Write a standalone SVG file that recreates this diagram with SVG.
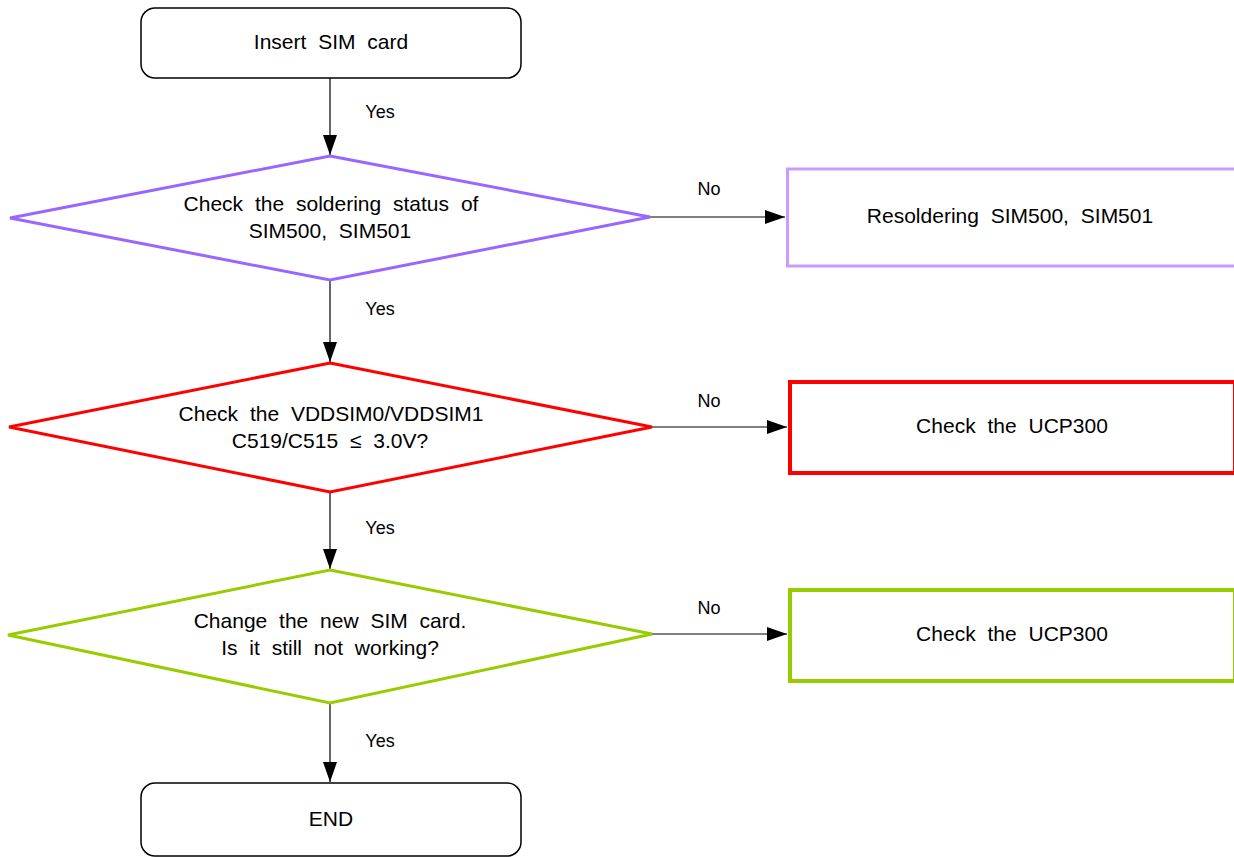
<svg xmlns="http://www.w3.org/2000/svg" width="1234" height="857" viewBox="0 0 1234 857">
<style>
.t{font-family:"Liberation Sans",Arial,sans-serif;font-size:21px;fill:#000;text-anchor:middle;word-spacing:6px}
.l{font-family:"Liberation Sans",Arial,sans-serif;font-size:18px;fill:#000;text-anchor:middle}
.term{fill:#fff;stroke:#000;stroke-width:1.5}
.c{stroke:#000;stroke-width:1.2;fill:none;marker-end:url(#ah)}
</style>
<defs>
<marker id="ah" markerUnits="userSpaceOnUse" markerWidth="22" markerHeight="16" refX="20" refY="7" orient="auto">
<path d="M0,0 L20,7 L0,14 Z" fill="#000"/>
</marker>
</defs>
<rect width="1234" height="857" fill="#fff"/>
<g id="connectors">
<line class="c" x1="330" y1="78" x2="330" y2="155"/>
<line class="c" x1="650" y1="217" x2="785" y2="217"/>
<line class="c" x1="330" y1="280" x2="330" y2="362"/>
<line class="c" x1="652" y1="427" x2="787" y2="427"/>
<line class="c" x1="330" y1="492" x2="330" y2="569"/>
<line class="c" x1="652" y1="634" x2="787" y2="634"/>
<line class="c" x1="330" y1="703" x2="330" y2="782"/>
<text class="l" x="380" y="118">Yes</text>
<text class="l" x="380" y="315">Yes</text>
<text class="l" x="380" y="534">Yes</text>
<text class="l" x="380" y="747">Yes</text>
<text class="l" x="709" y="195">No</text>
<text class="l" x="709" y="407">No</text>
<text class="l" x="709" y="614">No</text>
</g>
<g id="start">
<rect class="term" x="141" y="8" width="380" height="70" rx="14"/>
<text class="t" x="331" y="49">Insert SIM card</text>
</g>
<g id="d1">
<polygon points="330,156 650,217 330,280 10,218" fill="#fff" stroke="#9966FF" stroke-width="3"/>
<text class="t" x="331" y="211">Check the soldering status of</text>
<text class="t" x="330" y="238">SIM500, SIM501</text>
</g>
<g id="r1">
<rect x="787.5" y="169" width="460" height="97" fill="#fff" stroke="#CC99FF" stroke-width="3"/>
<text class="t" x="1010" y="223">Resoldering SIM500, SIM501</text>
</g>
<g id="d2">
<polygon points="330,363 652,427 330,492 9,427" fill="#fff" stroke="#FF0000" stroke-width="3"/>
<text class="t" x="331" y="421">Check the VDDSIM0/VDDSIM1</text>
<text class="t" x="330" y="448">C519/C515 ≤ 3.0V?</text>
</g>
<g id="r2">
<rect x="790" y="382" width="445" height="91" fill="#fff" stroke="#FF0000" stroke-width="4"/>
<text class="t" x="1012" y="433">Check the UCP300</text>
</g>
<g id="d3">
<polygon points="330,570 652,634 330,703 8,635" fill="#fff" stroke="#99CC00" stroke-width="3"/>
<text class="t" x="330" y="628">Change the new SIM card.</text>
<text class="t" x="330" y="655">Is it still not working?</text>
</g>
<g id="r3">
<rect x="790" y="590" width="445" height="91" fill="#fff" stroke="#99CC00" stroke-width="4"/>
<text class="t" x="1012" y="641">Check the UCP300</text>
</g>
<g id="end">
<rect class="term" x="141" y="783" width="380" height="73" rx="14"/>
<text class="t" x="331" y="826">END</text>
</g>
</svg>
